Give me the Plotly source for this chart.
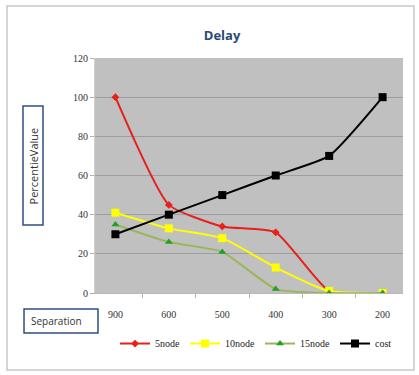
import plotly.graph_objects as go

categories = ["900", "600", "500", "400", "300", "200"]
node5 = [100, 45, 34, 31, 1, 0]
node10 = [41, 33, 28, 13, 1, 0]
node15 = [35, 26, 21, 2, 0, 0]
cost = [30, 40, 50, 60, 70, 100]

series = [
    ("5node", node5, "#e8201c", "#e8201c", "diamond", 6),
    ("10node", node10, "#ffff00", "#ffff00", "square", 8),
    ("15node", node15, "#9bb559", "#22a022", "triangle-up", 7),
    ("cost", cost, "#000000", "#000000", "square", 8),
]

fig = go.Figure()
for name, vals, lc, mc, sym, ms in series:
    fig.add_trace(go.Scatter(
        x=categories, y=vals, name=name, mode="lines+markers",
        line=dict(color=lc, width=2, shape="spline", smoothing=0.5),
        marker=dict(color=mc, symbol=sym, size=ms),
    ))

fig.update_layout(
    width=419, height=375,
    margin=dict(l=95, r=16, t=58, b=82, autoexpand=False),
    paper_bgcolor="white", plot_bgcolor="#c0c0c0",
    showlegend=True,
    title=dict(text="<b>Delay</b>", x=0.53, xanchor="center", y=0.905, yanchor="middle",
               font=dict(family="Open Sans", size=13, color="#2b4a72")),
    legend=dict(orientation="h", x=0.065, xanchor="left", y=-0.215, yanchor="middle",
                font=dict(family="Liberation Serif", size=10, color="#222"),
                bgcolor="rgba(0,0,0,0)", tracegroupgap=0, itemwidth=30),
    xaxis=dict(type="category", tickson="boundaries", ticks="outside", ticklen=4,
               tickcolor="#b0b0b0", showgrid=False, showline=True, linecolor="#b8b8b8",
               tickfont=dict(family="Liberation Serif", size=10, color="#333"),
               ticklabelstandoff=12),
    yaxis=dict(range=[0, 120], dtick=20, showgrid=True, gridcolor="#9e9e9e", gridwidth=1,
               zeroline=False, ticks="outside", ticklen=4, tickcolor="#b0b0b0",
               showline=True, linecolor="#d0d0d0",
               tickfont=dict(family="Liberation Serif", size=10, color="#333")),
    shapes=[
        dict(type="rect", xref="paper", yref="paper", x0=-0.2857, x1=1.0357, y0=-0.3277, y1=1.2213,
             line=dict(color="#c8c8c8", width=1.5), layer="below"),
        dict(type="rect", xref="paper", yref="paper", x0=-0.2338, x1=-0.1688, y0=0.2894, y1=0.7957,
             line=dict(color="#2f4f7f", width=1.5)),
        dict(type="rect", xref="paper", yref="paper", x0=-0.2305, x1=0.0097, y0=-0.1702, y1=-0.0681,
             line=dict(color="#2f4f7f", width=1.5)),
    ],
    annotations=[
        dict(text="PercentieValue", xref="paper", yref="paper", x=-0.2013, y=0.5426,
             textangle=-90, showarrow=False, xanchor="center", yanchor="middle",
             font=dict(family="Open Sans", size=11, color="#333")),
        dict(text="Separation", xref="paper", yref="paper", x=-0.213, y=-0.119,
             showarrow=False, xanchor="left", yanchor="middle",
             font=dict(family="Open Sans", size=10, color="#333")),
    ],
)

fig.write_html("out.html")
